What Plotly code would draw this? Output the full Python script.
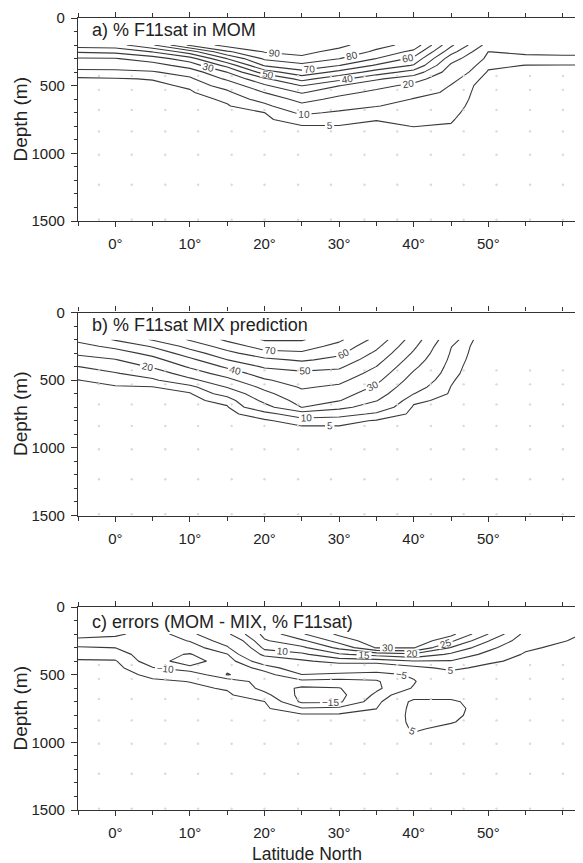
import numpy as np
import plotly.graph_objects as go

# ---------------- data ----------------
latitude = [-5, 0, 5, 10, 15, 20, 25, 30, 35, 40, 45, 50, 55, 60, 65]
depth_m = [200, 250, 300, 350, 400, 450, 500, 550, 600, 650, 700, 750, 800, 850, 900, 1000, 1200, 1500]

# % F11sat in MOM : one list per latitude (top to bottom along depth_m)
mom_f11sat = [
    [45, 30.9, 18.8, 13.0, 8.1, 4.3, 3.8, 3.2, 2.8, 2.5, 2.2, 2.0, 1.8, 1.6, 1.5, 1.2, 0.8, 0.5],
    [46, 32.4, 19.4, 13.4, 8.2, 4.7, 3.9, 3.3, 2.9, 2.6, 2.3, 2.0, 1.8, 1.6, 1.5, 1.2, 0.8, 0.5],
    [59, 40.2, 25, 15.6, 9.1, 5.2, 4.1, 3.5, 3.0, 2.7, 2.4, 2.1, 1.9, 1.7, 1.5, 1.2, 0.8, 0.5],
    [82, 55, 35.7, 24.5, 14.4, 8.3, 5.6, 4.5, 3.8, 3.3, 2.9, 2.6, 2.3, 2.0, 1.8, 1.4, 0.9, 0.5],
    [94, 78.3, 60.2, 43.3, 30.2, 21.7, 13.3, 8.3, 5.6, 4.7, 4.0, 3.5, 3.0, 2.6, 2.3, 1.8, 1.1, 0.6],
    [97, 90.6, 81.8, 71.1, 55, 38, 28.3, 20.2, 12.9, 8.1, 4.95, 4.3, 3.8, 3.3, 2.9, 2.2, 1.3, 0.7],
    [98, 93.3, 87.1, 77.2, 67, 53.5, 40.2, 30.9, 23.6, 17.1, 11.2, 7.2, 4.7, 4.1, 3.6, 2.8, 1.6, 0.8],
    [93, 86.3, 80.2, 70.3, 57.1, 42.9, 30.2, 22.9, 17.3, 12.7, 9.0, 6.7, 4.8, 4.2, 3.7, 2.9, 1.7, 0.8],
    [83, 78.3, 69.8, 58.8, 45.7, 31.4, 23.1, 17.7, 13.8, 10.2, 7.6, 5.1, 4.5, 4.0, 3.6, 2.8, 1.7, 0.8],
    [77, 67.1, 57.6, 49.2, 35.7, 24.1, 17.3, 12.8, 9.6, 8.4, 7.3, 6.2, 5.05, 4.4, 3.9, 3.0, 1.8, 0.9],
    [42, 33.7, 24.5, 18.3, 15.1, 12, 9.7, 8.8, 8.0, 7.1, 6.2, 5.4, 4.7, 4.2, 3.8, 3.0, 1.8, 0.9],
    [16, 9.9, 8.0, 6.0, 4.5, 3.0, 2.0, 1.8, 1.7, 1.6, 1.5, 1.4, 1.3, 1.2, 1.1, 1.0, 0.7, 0.4],
    [14, 11.3, 8.2, 4.9, 4.0, 3.0, 2.0, 1.8, 1.7, 1.6, 1.5, 1.4, 1.3, 1.2, 1.1, 1.0, 0.7, 0.4],
    [13.5, 11.2, 8.8, 4.8, 4.0, 3.0, 2.0, 1.8, 1.7, 1.6, 1.5, 1.4, 1.3, 1.2, 1.1, 1.0, 0.7, 0.4],
    [13.5, 11.2, 8.8, 4.8, 4.0, 3.0, 2.0, 1.8, 1.7, 1.6, 1.5, 1.4, 1.3, 1.2, 1.1, 1.0, 0.7, 0.4],
]

# % F11sat MIX prediction
mix_f11sat = [
    [32, 26.8, 21.8, 16, 9.9, 7.3, 4.9, 4.3, 3.8, 3.4, 3.0, 2.7, 2.4, 2.2, 2.0, 1.6, 1.0, 0.5],
    [41, 32.5, 25.6, 19.5, 14.2, 9.4, 6.5, 4.7, 4.2, 3.7, 3.3, 2.9, 2.6, 2.3, 2.1, 1.7, 1.0, 0.5],
    [51, 41, 33.1, 26.7, 21.1, 14.3, 8.5, 4.9, 4.4, 3.9, 3.5, 3.1, 2.7, 2.4, 2.2, 1.8, 1.0, 0.5],
    [61, 53.4, 45.3, 37.5, 31.3, 25, 17.5, 7.5, 4.6, 4.1, 3.7, 3.3, 2.9, 2.6, 2.3, 1.9, 1.1, 0.5],
    [72, 64.6, 57.1, 49.9, 41.7, 34.3, 27.3, 20.7, 13.1, 6.3, 4.6, 4.1, 3.6, 3.2, 2.9, 2.3, 1.3, 0.6],
    [81, 74.4, 66.7, 57.5, 51.3, 45, 38.8, 32.5, 27.3, 22.7, 16.4, 7, 4.5, 4.0, 3.6, 2.9, 1.7, 0.8],
    [81, 74.7, 68.6, 61.4, 53.7, 48.1, 44.6, 41.1, 37.4, 33.7, 30.2, 15, 6.6, 4.5, 4.0, 3.2, 1.9, 0.9],
    [72, 66.7, 62.2, 57.1, 51.6, 46.9, 42.5, 38.3, 34.4, 30.5, 22.9, 12.7, 6.5, 4.5, 4.0, 3.2, 1.9, 0.9],
    [57, 52.3, 48, 43.9, 39.9, 36.1, 32.4, 28.6, 24.6, 20.5, 14.9, 8.9, 4.6, 4.1, 3.7, 3.0, 1.8, 0.9],
    [35, 31.9, 28.7, 25.3, 22, 18.8, 15.9, 12.9, 10.1, 5.8, 4.5, 4.0, 3.6, 3.2, 2.9, 2.3, 1.4, 0.7],
    [12.8, 10.3, 9.3, 8.3, 7.3, 6.6, 5.6, 4.9, 4.5, 4.0, 3.6, 3.2, 2.8, 2.5, 2.2, 1.8, 1.0, 0.5],
    [0] * 18,
    [0] * 18,
    [0] * 18,
    [0] * 18,
]

# errors (MOM - MIX, % F11sat)
mom_minus_mix = [
    [-17, -13.5, -9.5, -6.7, -4.5, -3.5, -3.0, -2.5, -2.0, -1.5, -1.2, -1.0, -0.8, -0.6, -0.5, -0.3, -0.1, 0],
    [-16, -13.1, -10.1, -7.3, -4.6, -3.6, -3.0, -2.5, -2.0, -1.5, -1.2, -1.0, -0.8, -0.6, -0.5, -0.3, -0.1, 0],
    [-12.5, -13, -13.4, -13.6, -13.3, -9.6, -6.2, -4.2, -3.5, -3.0, -2.5, -2.0, -1.5, -1.2, -1.0, -0.6, -0.2, 0],
    [-7, -9.7, -12.5, -15.3, -17, -14.1, -5.9, -5.1, -4.2, -3.5, -3.0, -2.5, -2.0, -1.6, -1.3, -0.8, -0.3, 0],
    [4, -2, -5.8, -10.3, -12.5, -14, -15.3, -6.5, -5.4, -4.3, -3.6, -3.0, -2.5, -2.0, -1.6, -1.0, -0.4, 0],
    [16.5, 14.4, 11.3, 7, -1, -8, -12, -12.5, -11.5, -8.6, -4.9, -4.2, -3.5, -2.8, -2.3, -1.5, -0.6, 0],
    [24.5, 19, 14, 9, 4.1, -0.5, -5.1, -11.3, -15.9, -16.5, -16, -9.5, -4.0, -3.0, -2.4, -1.6, -0.6, 0],
    [31, 27, 21.3, 14.3, 7.1, 0.3, -6.4, -11.8, -15.2, -16.5, -15.8, -8.6, -4.1, -3.0, -2.4, -1.6, -0.6, 0],
    [35, 33, 30.5, 17, 7.5, -0.4, -7.5, -10.5, -11, -9, -7, -5.1, -3.5, -2.5, -2.0, -1.2, -0.5, 0],
    [37, 34, 30.5, 19, 9.9, 3.5, -4, -5.5, -4.5, 1, 7, 7.5, 7.5, 7, 6, 2, 0.5, 0],
    [31.5, 26, 19.8, 14.1, 9.7, 6.3, 3, 2, 2, 3, 6, 7, 6.5, 5.5, 3, 1.5, 0.5, 0],
    [20, 15.2, 11.4, 8.5, 6, 3.5, 2, 1.5, 1.5, 1.5, 2, 2, 2, 1.5, 1, 0.5, 0, 0],
    [8.5, 7, 5.8, 4.5, 3.5, 2.5, 1.5, 1.2, 1, 1, 1, 1, 1, 0.8, 0.6, 0.4, 0, 0],
    [6, 5.2, 4, 3, 2.5, 2, 1, 1, 0.8, 0.8, 0.8, 0.8, 0.6, 0.5, 0.4, 0.3, 0, 0],
    [4, 3.5, 3, 2.5, 2, 1.5, 1, 0.8, 0.6, 0.6, 0.6, 0.6, 0.5, 0.4, 0.3, 0.2, 0, 0],
]

# contour levels: (start, end, step)
mom_levels = [(5, 5, 5), (10, 90, 10)]
mix_levels = [(5, 5, 5), (10, 80, 10)]
err_levels = [(-15, -5, 5), (5, 30, 5)]

# faint model grid marks
grid_lat = [-2.2, 2.2, 6.7, 11.1, 15.6, 20.0, 24.5, 28.9, 33.4, 37.8, 42.3, 46.7, 51.1, 55.6, 60.0]
grid_depth = [428, 531, 679, 838, 1011, 1232, 1490]

x_tick_vals = [0, 10, 20, 30, 40, 50]
x_tick_text = ["0°", "10°", "20°", "30°", "40°", "50°"]
panel_titles = ["a) % F11sat in MOM", "b) % F11sat MIX prediction", "c) errors (MOM - MIX, % F11sat)"]
y_title = "Depth (m)"
x_title = "Latitude North"

# ---------------- figure ----------------
FONT = "Liberation Sans, Arial, Helvetica, sans-serif"
INK = "#222222"
LINE = "#333333"
OFF = 8                      # page body margin offset
W, H = 583 - OFF, 863 - OFF
ML, MT = 78 - OFF, 18 - OFF
PLOT_BOTTOM = 810 - OFF
MB = H - PLOT_BOTTOM
plot_h = PLOT_BOTTOM - MT
plot_w = W - ML
PX_PER_DEG = 7.46
x_range = [-5, -5 + plot_w / PX_PER_DEG]
panel_px = [(18, 221), (312.5, 515.5), (607, 810)]   # page top/bottom pixel of each panel
title_y = [30.5, 325, 622]


def frac(y_page):
    return (PLOT_BOTTOM - (y_page - OFF)) / plot_h


fig = go.Figure()
fields = [mom_f11sat, mix_f11sat, mom_minus_mix]
levels = [mom_levels, mix_levels, err_levels]

gx = [la for d in grid_depth for la in grid_lat]
gy = [d for d in grid_depth for la in grid_lat]

for i in range(3):
    xa = "x" if i == 0 else f"x{i+1}"
    ya = "y" if i == 0 else f"y{i+1}"
    fig.add_trace(go.Scatter(x=gx, y=gy, mode="markers", xaxis=xa, yaxis=ya,
                             marker=dict(size=2.4, color="#d9d9d9"), hoverinfo="skip",
                             showlegend=False))
    z = np.array(fields[i], dtype=float).T
    for (s, e, st) in levels[i]:
        fig.add_trace(go.Contour(
            x=latitude, y=depth_m, z=z, xaxis=xa, yaxis=ya,
            autocontour=False,
            contours=dict(start=s, end=e, size=st, coloring="none", showlabels=True,
                          labelfont=dict(size=10, color="#444444", family=FONT),
                          labelformat=".0f"),
            line=dict(color="#3a3a3a", width=1.1, smoothing=0),
            showscale=False, hoverinfo="skip", showlegend=False))

    top, bot = panel_px[i]
    xkey = "xaxis" if i == 0 else f"xaxis{i+1}"
    ykey = "yaxis" if i == 0 else f"yaxis{i+1}"
    fig.update_layout(**{
        xkey: dict(domain=[0, 1], anchor=ya, range=x_range,
                   tickmode="array", tickvals=x_tick_vals, ticktext=x_tick_text,
                   ticks="outside", ticklen=5, tickwidth=1, tickcolor=LINE,
                   minor=dict(tickmode="linear", tick0=0, dtick=5, ticks="outside",
                              ticklen=4, tickwidth=1, tickcolor=LINE),
                   showline=True, linecolor=LINE, linewidth=1.3, mirror="ticks",
                   showgrid=False, zeroline=False, ticklabelstandoff=4,
                   tickfont=dict(size=15, color=INK, family=FONT)),
        ykey: dict(domain=[frac(bot), frac(top)], anchor=xa, range=[1500, 0],
                   tickmode="linear", tick0=0, dtick=500,
                   ticks="outside", ticklen=6, tickwidth=1, tickcolor=LINE,
                   minor=dict(tickmode="linear", tick0=0, dtick=100, ticks="outside",
                              ticklen=3, tickwidth=1, tickcolor=LINE),
                   showline=True, linecolor=LINE, linewidth=1.3, mirror=False,
                   showgrid=False, zeroline=False, ticklabelstandoff=3,
                   tickfont=dict(size=15, color=INK, family=FONT)),
    })
    fig.add_annotation(text=panel_titles[i], xref=f"{xa} domain", yref=f"{ya} domain",
                       x=12 / plot_w, y=(bot - title_y[i]) / (bot - top),
                       xanchor="left", yanchor="middle", showarrow=False,
                       font=dict(size=18, color=INK, family=FONT))
    fig.add_annotation(text=y_title, xref="paper", yref=f"{ya} domain",
                       x=(20 - 78) / plot_w, y=0.5, textangle=-90,
                       xanchor="center", yanchor="middle", showarrow=False,
                       font=dict(size=19, color=INK, family=FONT))

fig.add_annotation(text=x_title, xref="paper", yref="paper",
                   x=(307 - 78) / plot_w, y=frac(854), yshift=0,
                   xanchor="center", yanchor="middle", showarrow=False,
                   font=dict(size=17.5, color=INK, family=FONT))

fig.update_layout(width=W, height=H, margin=dict(l=ML, r=0, t=MT, b=MB),
                  paper_bgcolor="white", plot_bgcolor="white", showlegend=False)

fig.write_html("out.html")
